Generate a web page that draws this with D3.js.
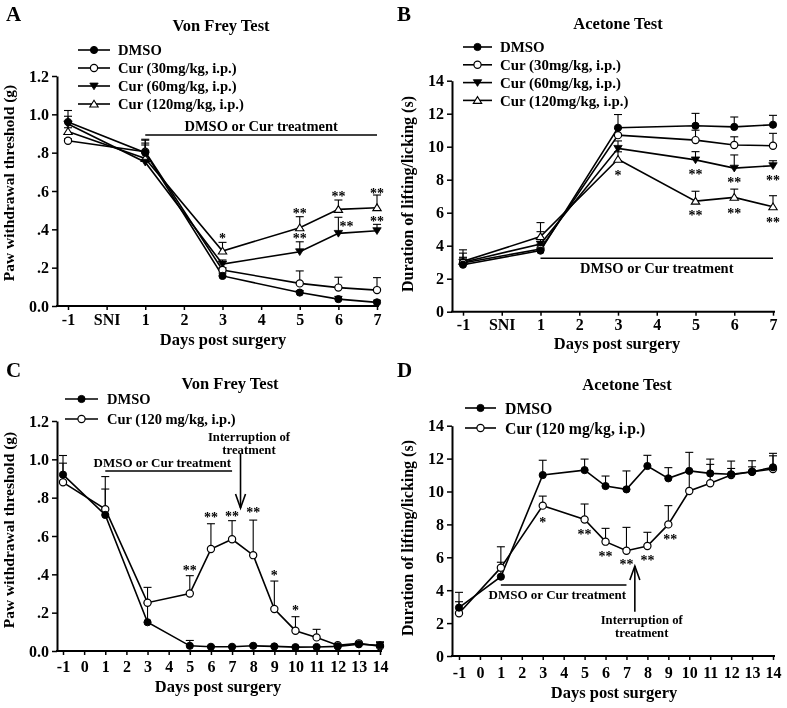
<!DOCTYPE html>
<html>
<head>
<meta charset="utf-8">
<script src="https://cdn.jsdelivr.net/npm/d3@7/dist/d3.min.js"></script>
<style>
  html, body { margin: 0; padding: 0; background: #fff; }
  svg { filter: grayscale(1); }
  svg text { font-family: "Liberation Serif", "Times New Roman", serif; font-weight: bold; fill: #000; }
</style>
</head>
<body>
<svg id="chart" width="787" height="708"></svg>
<script>
// ---------------- DATA ----------------
// Panels A & B: categorical day axis
const daysAB = ["-1", "SNI", "1", "2", "3", "4", "5", "6", "7"];
const measuredAB = ["-1", "1", "3", "5", "6", "7"];

// Panel A – Von Frey (g)
const vfDMSO      = [0.960, 0.800, 0.157, 0.070, 0.036, 0.019];
const vfDMSOErr   = [0.060, 0.070, 0.015, 0.010, 0.014, 0.011];
const vfCur30     = [0.862, 0.805, 0.188, 0.118, 0.096, 0.083];
const vfCur30Err  = [0.010, 0.060, 0.012, 0.065, 0.054, 0.065];
const vfCur60     = [0.950, 0.750, 0.219, 0.283, 0.379, 0.393];
const vfCur60Err  = [0.040, 0.090, 0.021, 0.052, 0.084, 0.033];
const vfCur120    = [0.910, 0.770, 0.287, 0.408, 0.504, 0.513];
const vfCur120Err = [0.020, 0.080, 0.045, 0.058, 0.049, 0.066];
const starsA = [
  {day: "3", value: 0.365, text: "*", dx: 0},
  {day: "5", value: 0.496, text: "**", dx: 0},
  {day: "5", value: 0.365, text: "**", dx: 0},
  {day: "6", value: 0.584, text: "**", dx: 0},
  {day: "6", value: 0.428, text: "**", dx: 8},
  {day: "7", value: 0.600, text: "**", dx: 0},
  {day: "7", value: 0.454, text: "**", dx: 0}
];

// Panel B – Acetone (s)
const acDMSO      = [2.85, 3.70, 11.15, 11.27, 11.20, 11.33];
const acDMSOErr   = [0.90, 0.30, 0.80, 0.75, 0.60, 0.57];
const acCur30     = [2.95, 3.80, 10.70, 10.40, 10.10, 10.06];
const acCur30Err  = [0.60, 0.30, 0.40, 0.60, 0.50, 0.75];
const acCur60     = [3.00, 4.10, 9.90, 9.20, 8.70, 8.85];
const acCur60Err  = [0.30, 0.75, 0.45, 0.50, 0.80, 0.30];
const acCur120    = [3.05, 4.55, 9.24, 6.70, 6.93, 6.36];
const acCur120Err = [0.20, 0.85, 0.45, 0.60, 0.50, 0.67];
const starsB = [
  {day: "3", value: 8.42, text: "*", dx: 0},
  {day: "5", value: 8.48, text: "**", dx: 0},
  {day: "5", value: 5.96, text: "**", dx: 0},
  {day: "6", value: 7.98, text: "**", dx: 0},
  {day: "6", value: 6.12, text: "**", dx: 0},
  {day: "7", value: 8.10, text: "**", dx: 0},
  {day: "7", value: 5.56, text: "**", dx: 0}
];

// Panels C & D: numeric day axis
const daysCD = [-1, 1, 3, 5, 6, 7, 8, 9, 10, 11, 12, 13, 14];
const tickDaysCD = [-1, 0, 1, 2, 3, 4, 5, 6, 7, 8, 9, 10, 11, 12, 13, 14];

// Panel C – Von Frey (g)
const vf2DMSO    = [0.920, 0.710, 0.150, 0.027, 0.022, 0.022, 0.027, 0.024, 0.020, 0.021, 0.024, 0.035, 0.030];
const vf2DMSOErr = [0.100, 0.135, 0.100, 0.028, 0.004, 0.004, 0.004, 0.004, 0.004, 0.004, 0.004, 0.004, 0.015];
const vf2Cur     = [0.880, 0.740, 0.252, 0.300, 0.532, 0.583, 0.500, 0.219, 0.106, 0.071, 0.030, 0.040, 0.025];
const vf2CurErr  = [0.100, 0.170, 0.080, 0.093, 0.132, 0.097, 0.183, 0.146, 0.073, 0.042, 0.004, 0.004, 0.023];
const starsC = [
  {day: 5, value: 0.433, text: "**", dx: 0},
  {day: 6, value: 0.710, text: "**", dx: 0},
  {day: 7, value: 0.715, text: "**", dx: 0},
  {day: 8, value: 0.736, text: "**", dx: 0},
  {day: 9, value: 0.408, text: "*", dx: 0},
  {day: 10, value: 0.224, text: "*", dx: 0}
];

// Panel D – Acetone (s)
const ac2DMSO    = [2.94, 4.82, 11.00, 11.30, 10.33, 10.13, 11.55, 10.80, 11.25, 11.10, 11.05, 11.20, 11.47];
const ac2DMSOErr = [0.93, 0.88, 0.90, 0.67, 0.61, 1.12, 0.65, 0.65, 1.13, 0.87, 0.80, 0.67, 0.85];
const ac2Cur     = [2.60, 5.37, 9.14, 8.30, 6.95, 6.40, 6.69, 8.00, 10.03, 10.50, 11.00, 11.20, 11.37];
const ac2CurErr  = [0.70, 1.27, 0.58, 0.94, 0.81, 1.42, 0.83, 1.14, 1.20, 1.15, 0.40, 0.30, 0.80];
const starsD = [
  {day: 3, value: 8.27, text: "*", dx: 0},
  {day: 5, value: 7.56, text: "**", dx: 0},
  {day: 6, value: 6.20, text: "**", dx: 0},
  {day: 7, value: 5.70, text: "**", dx: 0},
  {day: 8, value: 5.94, text: "**", dx: 0},
  {day: 9, value: 7.23, text: "**", dx: 2}
];

const legendAB = ["DMSO", "Cur (30mg/kg, i.p.)", "Cur (60mg/kg, i.p.)", "Cur (120mg/kg, i.p.)"];
const legendCD = ["DMSO", "Cur (120 mg/kg, i.p.)"];
const markersAB = ["circleFilled", "circleOpen", "triDownFilled", "triUpOpen"];
const markersCD = ["circleFilled", "circleOpen"];

// ---------------- DRAWING ----------------
const svg = d3.select("#chart");
const fmtVF = d => d === 0 ? "0.0" : (d >= 1 ? d.toFixed(1) : d.toFixed(1).replace(/^0/, ""));
const fmtPlain = d => String(d);

function marker(g, type, x, y) {
  const s = 4.2;
  if (type === "circleFilled") {
    g.append("circle").attr("cx", x).attr("cy", y).attr("r", 3.6).attr("fill", "#000").attr("stroke", "#000").attr("stroke-width", 1);
  } else if (type === "circleOpen") {
    g.append("circle").attr("cx", x).attr("cy", y).attr("r", 3.6).attr("fill", "#fff").attr("stroke", "#000").attr("stroke-width", 1.2);
  } else if (type === "triDownFilled") {
    g.append("path").attr("d", `M${x - s},${y - s * 0.7}L${x + s},${y - s * 0.7}L${x},${y + s * 0.9}Z`).attr("fill", "#000").attr("stroke", "#000").attr("stroke-width", 0.8);
  } else if (type === "triUpOpen") {
    g.append("path").attr("d", `M${x - s},${y + s * 0.7}L${x + s},${y + s * 0.7}L${x},${y - s * 0.9}Z`).attr("fill", "#fff").attr("stroke", "#000").attr("stroke-width", 1.1);
  }
}

function drawPanel(cfg) {
  const g = svg.append("g");
  const x = cfg.x, y = cfg.y;

  // panel letter & title
  g.append("text").attr("x", cfg.letterPos[0]).attr("y", cfg.letterPos[1]).attr("font-size", 21).text(cfg.letter);
  g.append("text").attr("x", cfg.titlePos[0]).attr("y", cfg.titlePos[1]).attr("text-anchor", "middle").attr("font-size", 16.5).text(cfg.title);

  // y axis
  const yAxis = d3.axisLeft(y).tickValues(cfg.yTicks).tickFormat(cfg.yFmt).tickSize(5).tickPadding(3).tickSizeOuter(0);
  const ya = g.append("g").attr("transform", `translate(${cfg.axisX},0)`).call(yAxis);
  ya.select(".domain").attr("stroke-width", 2);
  ya.selectAll(".tick line").attr("stroke-width", 1.5);
  ya.selectAll("text").attr("font-size", 16).style("font-family", "Liberation Serif").style("font-weight", "bold");

  // x axis
  const xAxis = d3.axisBottom(x).tickSize(4).tickPadding(cfg.xTickPad).tickSizeOuter(0).tickFormat(fmtPlain);
  if (cfg.xTicks) xAxis.tickValues(cfg.xTicks);
  const xa = g.append("g").attr("transform", `translate(0,${cfg.axisY})`).call(xAxis);
  xa.select(".domain").remove();
  xa.selectAll(".tick line").attr("stroke-width", 1.5);
  xa.selectAll("text").attr("font-size", 16).style("font-family", "Liberation Serif").style("font-weight", "bold");
  g.append("line").attr("x1", cfg.axisX - 1).attr("x2", cfg.xEnd).attr("y1", cfg.axisY).attr("y2", cfg.axisY).attr("stroke", "#000").attr("stroke-width", 2);

  // axis titles
  g.append("text").attr("x", cfg.xTitlePos[0]).attr("y", cfg.xTitlePos[1]).attr("text-anchor", "middle").attr("font-size", 16.5).text("Days post surgery");
  g.append("text").attr("transform", `translate(${cfg.yTitlePos[0]},${cfg.yTitlePos[1]}) rotate(-90)`).attr("text-anchor", "middle").attr("font-size", cfg.yTitleSize).text(cfg.yTitle);

  // treatment line
  const tr = cfg.treatment;
  g.append("line").attr("x1", x(tr.from)).attr("x2", x(tr.to)).attr("y1", y(tr.lineY)).attr("y2", y(tr.lineY)).attr("stroke", "#000").attr("stroke-width", 1.5);
  g.append("text").attr("x", x(tr.textDay)).attr("y", y(tr.textY)).attr("dy", "0.35em").attr("text-anchor", "middle").attr("font-size", tr.size).text("DMSO or Cur treatment");

  // interruption arrow
  if (cfg.interrupt) {
    const it = cfg.interrupt;
    const ax = x(it.day);
    const y1 = y(it.tail), y2 = y(it.head);
    const dir = y2 > y1 ? 1 : -1;
    g.append("line").attr("x1", ax).attr("x2", ax).attr("y1", y1).attr("y2", y2).attr("stroke", "#000").attr("stroke-width", 1.6);
    g.append("path").attr("d", `M${ax - 5},${y2 - dir * 14}L${ax},${y2}L${ax + 5},${y2 - dir * 14}`).attr("fill", "none").attr("stroke", "#000").attr("stroke-width", 1.6);
    it.lines.forEach((t, i) => {
      g.append("text").attr("x", x(it.textDay)).attr("y", y(it.textY[i])).attr("dy", "0.35em").attr("text-anchor", "middle").attr("font-size", 12.7).text(t);
    });
  }

  // series
  const line = d3.line().x(d => x(d.day)).y(d => y(d.v));
  cfg.series.forEach(s => {
    const pts = cfg.days.map((d, i) => ({day: d, v: s.values[i], e: s.err[i]}));
    pts.forEach(p => {
      const px = x(p.day), top = y(p.v + p.e);
      g.append("line").attr("x1", px).attr("x2", px).attr("y1", y(p.v)).attr("y2", top).attr("stroke", "#000").attr("stroke-width", 1.1);
      g.append("line").attr("x1", px - 4).attr("x2", px + 4).attr("y1", top).attr("y2", top).attr("stroke", "#000").attr("stroke-width", 1.1);
    });
  });
  cfg.series.forEach(s => {
    const pts = cfg.days.map((d, i) => ({day: d, v: s.values[i]}));
    g.append("path").datum(pts).attr("d", line).attr("fill", "none").attr("stroke", "#000").attr("stroke-width", 1.6);
  });
  cfg.series.slice().reverse().forEach(s => {
    cfg.days.forEach((d, i) => marker(g, s.marker, x(d), y(s.values[i])));
  });

  // stars
  cfg.stars.forEach(st => {
    g.append("text").attr("x", x(st.day) + st.dx).attr("y", y(st.value) + 7).attr("text-anchor", "middle").attr("font-size", 14).text(st.text);
  });

  // legend
  const lg = cfg.legend;
  cfg.series.forEach((s, i) => {
    const ly = lg.y0 + i * lg.dy;
    g.append("line").attr("x1", lg.x0).attr("x2", lg.x1).attr("y1", ly).attr("y2", ly).attr("stroke", "#000").attr("stroke-width", 1.6);
    marker(g, s.marker, (lg.x0 + lg.x1) / 2, ly);
    g.append("text").attr("x", lg.tx).attr("y", ly).attr("dy", "0.35em").attr("font-size", lg.size).text(s.name);
  });
}

// Panel A
drawPanel({
  letter: "A", letterPos: [6, 21], title: "Von Frey Test", titlePos: [221, 31],
  x: d3.scalePoint().domain(daysAB).range([68, 377]),
  y: d3.scaleLinear().domain([0, 1.2]).range([306, 76]),
  yTicks: [0, 0.2, 0.4, 0.6, 0.8, 1.0, 1.2], yFmt: fmtVF, xTickPad: 4,
  axisX: 57, axisY: 306, xEnd: 379,
  xTitlePos: [223, 344.5], yTitlePos: [14, 183], yTitle: "Paw withdrawal threshold (g)", yTitleSize: 15.5,
  days: measuredAB,
  series: [
    {name: legendAB[0], values: vfDMSO, err: vfDMSOErr, marker: markersAB[0]},
    {name: legendAB[1], values: vfCur30, err: vfCur30Err, marker: markersAB[1]},
    {name: legendAB[2], values: vfCur60, err: vfCur60Err, marker: markersAB[2]},
    {name: legendAB[3], values: vfCur120, err: vfCur120Err, marker: markersAB[3]}
  ],
  stars: starsA,
  treatment: {from: "1", to: "7", lineY: 0.892, textDay: "4", textY: 0.94, size: 14.5},
  legend: {x0: 78, x1: 110, tx: 118, y0: 50, dy: 18, size: 14.6}
});

// Panel B
drawPanel({
  letter: "B", letterPos: [397, 21], title: "Acetone Test", titlePos: [618, 29],
  x: d3.scalePoint().domain(daysAB).range([463, 773]),
  y: d3.scaleLinear().domain([0, 14]).range([311.7, 80.7]),
  yTicks: d3.range(0, 15, 2), yFmt: fmtPlain, xTickPad: 3,
  axisX: 452, axisY: 311.7, xEnd: 775,
  xTitlePos: [617, 349], yTitlePos: [413, 194], yTitle: "Duration of lifting/licking (s)", yTitleSize: 16,
  days: measuredAB,
  series: [
    {name: legendAB[0], values: acDMSO, err: acDMSOErr, marker: markersAB[0]},
    {name: legendAB[1], values: acCur30, err: acCur30Err, marker: markersAB[1]},
    {name: legendAB[2], values: acCur60, err: acCur60Err, marker: markersAB[2]},
    {name: legendAB[3], values: acCur120, err: acCur120Err, marker: markersAB[3]}
  ],
  stars: starsB,
  treatment: {from: "1", to: "7", lineY: 3.24, textDay: "4", textY: 2.65, size: 14.5},
  legend: {x0: 463, x1: 492, tx: 500, y0: 47, dy: 17.8, size: 14.9}
});

// Panel C
drawPanel({
  letter: "C", letterPos: [6, 377], title: "Von Frey Test", titlePos: [230, 389],
  x: d3.scaleLinear().domain([-1, 14]).range([63, 380]),
  y: d3.scaleLinear().domain([0, 1.2]).range([651, 421]),
  yTicks: [0, 0.2, 0.4, 0.6, 0.8, 1.0, 1.2], yFmt: fmtVF, xTicks: tickDaysCD, xTickPad: 6,
  axisX: 57, axisY: 651, xEnd: 382,
  xTitlePos: [218, 692], yTitlePos: [14, 530], yTitle: "Paw withdrawal threshold (g)", yTitleSize: 15.5,
  days: daysCD,
  series: [
    {name: legendCD[0], values: vf2DMSO, err: vf2DMSOErr, marker: markersCD[0]},
    {name: legendCD[1], values: vf2Cur, err: vf2CurErr, marker: markersCD[1]}
  ],
  stars: starsC,
  treatment: {from: 1, to: 7, lineY: 0.939, textDay: 3.7, textY: 0.982, size: 13},
  interrupt: {day: 7.4, tail: 1.03, head: 0.746, textDay: 7.8, textY: [1.12, 1.05], lines: ["Interruption of", "treatment"]},
  legend: {x0: 65, x1: 98, tx: 107, y0: 399, dy: 20, size: 14.5}
});

// Panel D
drawPanel({
  letter: "D", letterPos: [397, 377], title: "Acetone Test", titlePos: [627, 390],
  x: d3.scaleLinear().domain([-1, 14]).range([459, 773]),
  y: d3.scaleLinear().domain([0, 14]).range([656, 425.7]),
  yTicks: d3.range(0, 15, 2), yFmt: fmtPlain, xTicks: tickDaysCD, xTickPad: 7,
  axisX: 452, axisY: 656, xEnd: 775,
  xTitlePos: [614, 698], yTitlePos: [413, 538], yTitle: "Duration of lifting/licking (s)", yTitleSize: 16,
  days: daysCD,
  series: [
    {name: legendCD[0], values: ac2DMSO, err: ac2DMSOErr, marker: markersCD[0]},
    {name: legendCD[1], values: ac2Cur, err: ac2CurErr, marker: markersCD[1]}
  ],
  stars: starsD,
  treatment: {from: 1, to: 7, lineY: 4.32, textDay: 3.7, textY: 3.75, size: 13},
  interrupt: {day: 7.4, tail: 2.69, head: 5.47, textDay: 7.73, textY: [2.23, 1.42], lines: ["Interruption of", "treatment"]},
  legend: {x0: 465, x1: 496, tx: 505, y0: 408, dy: 20, size: 15.8}
});
</script>
</body>
</html>
